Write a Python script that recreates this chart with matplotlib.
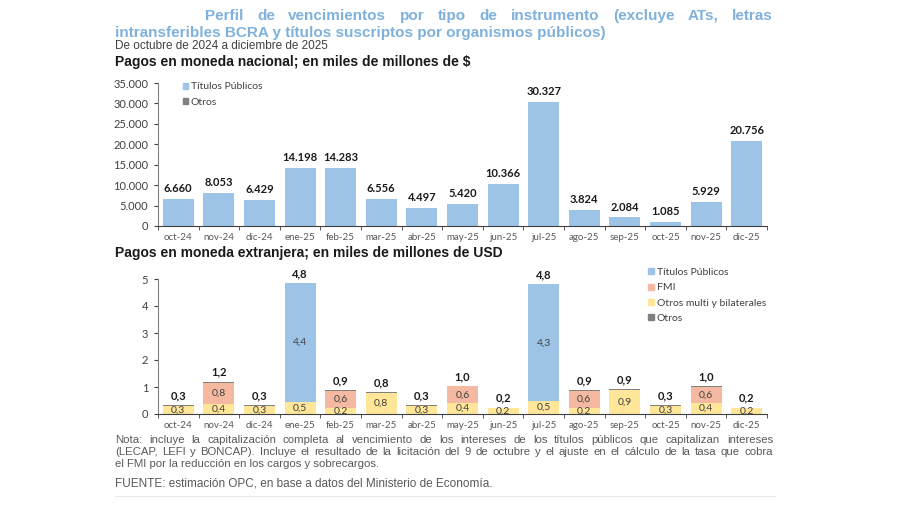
import matplotlib.pyplot as plt
from matplotlib.patches import Patch
from matplotlib.ticker import FuncFormatter

plt.rcParams['font.family'] = ['Liberation Sans', 'DejaVu Sans']

meses = ['oct-24', 'nov-24', 'dic-24', 'ene-25', 'feb-25', 'mar-25', 'abr-25', 'may-25',
         'jun-25', 'jul-25', 'ago-25', 'sep-25', 'oct-25', 'nov-25', 'dic-25']

# moneda nacional, miles de millones de $
titulos_ars = [6660, 8053, 6429, 14198, 14283, 6556, 4497, 5420, 10366, 30327, 3824, 2084, 1085, 5929, 20756]
otros_ars = [0] * 15

# moneda extranjera, miles de millones de USD
otros_multi = [0.30, 0.38, 0.30, 0.46, 0.24, 0.78, 0.30, 0.40, 0.22, 0.48, 0.24, 0.88, 0.30, 0.40, 0.22]
fmi = [0, 0.78, 0, 0, 0.62, 0, 0, 0.62, 0, 0, 0.62, 0, 0, 0.60, 0]
titulos_usd = [0, 0, 0, 4.38, 0, 0, 0, 0, 0, 4.32, 0, 0, 0, 0, 0]
otros_usd = [0.03, 0.03, 0.02, 0, 0.03, 0.02, 0.02, 0.02, 0.02, 0, 0.02, 0.03, 0.03, 0.02, 0.02]

c_blue = '#9DC3E6'
c_fmi = '#F4B9A0'
c_yel = '#FFE699'
c_gray = '#808080'
title_col = '#7FB1DC'
chart_font = ['Lato', 'DejaVu Sans']

fig = plt.figure(figsize=(9, 5.05), dpi=100)
W, H = 900, 505


def fx(px):
    return px / W


def fy(py):
    return 1 - py / H


def style_axes(ax, ymax, step, fmt):
    ax.set_xlim(-0.5, len(meses) - 0.5)
    ax.set_ylim(0, ymax)
    ax.set_yticks([i * step for i in range(int(ymax / step) + 1)])
    ax.yaxis.set_major_formatter(FuncFormatter(fmt))
    ax.set_xticks(range(len(meses)))
    ax.set_xticklabels(meses)
    ax.set_xticks([i + 0.5 for i in range(-1, len(meses))], minor=True)
    ax.tick_params(axis='x', which='major', length=0, labelsize=7, labelcolor='#595959', pad=5)
    ax.tick_params(axis='x', which='minor', length=3, color='#404040')
    ax.tick_params(axis='y', length=3, color='#404040', labelsize=8, labelcolor='#404040', pad=4)
    for t in ax.get_xticklabels() + ax.get_yticklabels():
        t.set_family(chart_font)
    for s in ['top', 'right']:
        ax.spines[s].set_visible(False)
    ax.spines['left'].set_color('#808080')
    ax.spines['bottom'].set_color('#404040')


leg_kw = dict(loc='upper left', frameon=False, handlelength=0.5, handleheight=0.5,
              handletextpad=0.3, labelcolor='#404040', prop={'family': chart_font, 'size': 7.5})

# ---- top chart
ax1 = fig.add_axes([fx(158), fy(226), fx(767) - fx(158), fy(83) - fy(226)])
x = range(len(meses))
ax1.bar(x, titulos_ars, width=0.76, color=c_blue)
ax1.bar(x, otros_ars, width=0.76, bottom=titulos_ars, color=c_gray)
style_axes(ax1, 35000, 5000, lambda v, p: f"{int(v):,}".replace(',', '.'))
for i, v in enumerate(titulos_ars):
    ax1.text(i, v + otros_ars[i] + 1200, f"{v:,}".replace(',', '.'), ha='center', va='bottom',
             fontsize=8, fontweight='bold', color='#1a1a1a', family=chart_font)
ax1.legend(handles=[Patch(color=c_blue, label='Títulos Públicos'), Patch(color=c_gray, label='Otros')],
           bbox_to_anchor=(0.025, 1.07), labelspacing=0.65, **leg_kw)

# ---- bottom chart
ax2 = fig.add_axes([fx(158), fy(414), fx(767) - fx(158), fy(279) - fy(414)])
b2 = otros_multi
b3 = [a + b for a, b in zip(otros_multi, fmi)]
b4 = [a + b for a, b in zip(b3, titulos_usd)]
ax2.bar(x, otros_multi, width=0.76, color=c_yel)
ax2.bar(x, fmi, width=0.76, bottom=b2, color=c_fmi)
ax2.bar(x, titulos_usd, width=0.76, bottom=b3, color=c_blue)
ax2.bar(x, otros_usd, width=0.76, bottom=b4, color=c_gray)
style_axes(ax2, 5, 1, lambda v, p: f"{int(v)}")


def lbl(v):
    return f"{v:.1f}".replace('.', ',')


skw = dict(ha='center', va='center', fontsize=7.5, color='#404040', family=chart_font)
for i in x:
    ax2.text(i, otros_multi[i] / 2, lbl(otros_multi[i]), **skw)
    if fmi[i] > 0:
        ax2.text(i, b2[i] + fmi[i] / 2, lbl(fmi[i]), **skw)
    if titulos_usd[i] > 0:
        ax2.text(i, b3[i] + titulos_usd[i] / 2, lbl(titulos_usd[i]), **skw)
    total = b4[i] + otros_usd[i]
    ax2.text(i, total + 0.15, lbl(total), ha='center', va='bottom', fontsize=8, fontweight='bold',
             color='#1a1a1a', family=chart_font)
ax2.legend(handles=[Patch(color=c_blue, label='Títulos Públicos'), Patch(color=c_fmi, label='FMI'),
                    Patch(color=c_yel, label='Otros multi y bilaterales'), Patch(color=c_gray, label='Otros')],
           bbox_to_anchor=(0.79, 1.15), labelspacing=0.6, **leg_kw)

# ---- titles and notes
fig.canvas.draw()
renderer = fig.canvas.get_renderer()


def justify(words, x0, x1, y, **kw):
    arts = [fig.text(0, y, w, **kw) for w in words]
    widths = [a.get_window_extent(renderer).width for a in arts]
    gap = ((x1 - x0) - sum(widths)) / (len(words) - 1)
    pos = x0
    for a, w in zip(arts, widths):
        a.set_x(fx(pos))
        pos += w + gap


tkw = dict(fontsize=11, fontweight='bold', color=title_col, va='center')
justify('Perfil de vencimientos por tipo de instrumento (excluye ATs, letras'.split(), 205, 773, fy(16), **tkw)
fig.text(fx(115), fy(33), 'intransferibles BCRA y títulos suscriptos por organismos públicos)', **tkw)
fig.text(fx(115), fy(46), 'De octubre de 2024 a diciembre de 2025', fontsize=8.5, color='#404040', va='center')
fig.text(fx(115), fy(62), 'Pagos en moneda nacional; en miles de millones de $', fontsize=10,
         fontweight='bold', color='#1a1a1a', va='center')
fig.text(fx(115), fy(253), 'Pagos en moneda extranjera; en miles de millones de USD', fontsize=10,
         fontweight='bold', color='#1a1a1a', va='center')

nkw = dict(fontsize=8.2, color='#595959', va='center')
justify('Nota: incluye la capitalización completa al vencimiento de los intereses de los títulos públicos que capitalizan intereses'.split(),
        115, 773, fy(440), **nkw)
justify('(LECAP, LEFI y BONCAP). Incluye el resultado de la licitación del 9 de octubre y el ajuste en el cálculo de la tasa que cobra'.split(),
        115, 773, fy(452), **nkw)
fig.text(fx(115), fy(464), 'el FMI por la reducción en los cargos y sobrecargos.', **nkw)
fig.text(fx(115), fy(483), 'FUENTE: estimación OPC, en base a datos del Ministerio de Economía.', fontsize=8.5,
         color='#595959', va='center')
fig.add_artist(plt.Line2D([fx(115), fx(775)], [fy(496), fy(496)], color='#ebebeb', lw=0.8))

fig.savefig('out.png', dpi=100)
